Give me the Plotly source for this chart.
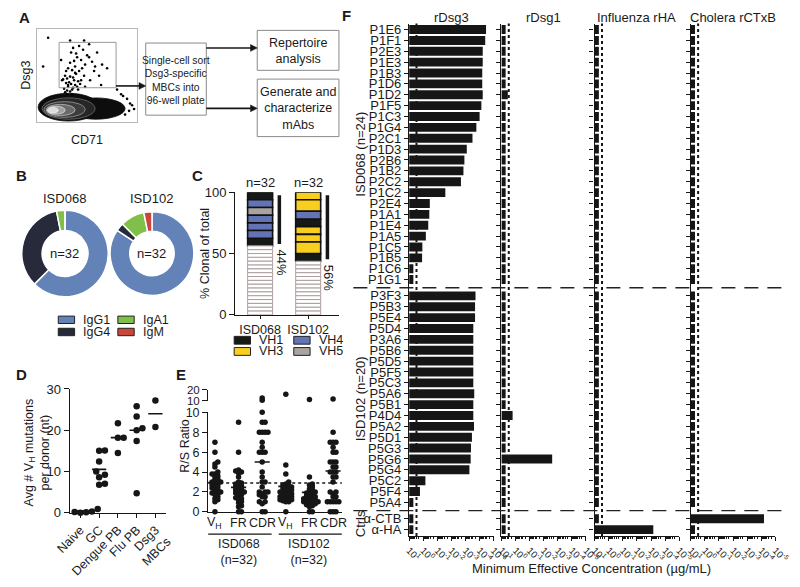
import plotly.graph_objects as go

W, H = 800, 587
def P(x): return x / W
def Q(y): return 1 - y / H

FONT = "Arial, Liberation Sans, Helvetica, sans-serif"
TXT = "#1a1a1a"
BLK = "#161616"

# ------------------------------------------------------------------ data
# A: flow cytometry sketch (CD71 vs Dsg3, arbitrary units 0-100, hand placed)
flow_u = [28,30,33,35,31,27,36,38,40,29,32,34,37,41,43,30,33,36,39,26,29,31,35,38,42,45,48,33,37,
          40,44,50,34,39,46,52,55,36,42,58,47,31,28,25,60,65,44,38,35,30,41,48,53,57,62,
          11,33,6,90,92,88,84,95,80,70,86,93,97,24,52,47,64]
flow_v = [32,34,33,35,38,36,37,40,38,42,43,41,45,44,41,47,49,48,52,46,55,58,56,60,55,58,62,64,66,
          70,67,72,75,74,78,70,65,80,82,60,50,40,50,45,75,62,45,53,30,30,35,38,45,55,50,
          91,88,60,25,12,8,30,18,35,58,28,20,14,67,84,88,40]

# B: isotypes
isotypes = ["IgG1", "IgG4", "IgA1", "IgM"]
iso_colors = ["#6282b8", "#262a3b", "#80c04a", "#c9463d"]
isd068_iso = [20, 11, 1, 0]
isd102_iso = [27, 1, 3, 1]

# C: clonal families (top to bottom), remaining cells are non-clonal
c_donors = ["ISD068", "ISD102"]
c_total = [32, 32]
c_clone_vh = [["VH1", "VH4", "VH5", "VH4", "VH4", "VH4", "VH1"],
              ["VH3", "VH3", "VH4", "VH1", "VH3", "VH3", "VH3", "VH1"]]
c_clone_size = [[2, 2, 2, 2, 2, 2, 2],
                [2, 3, 2, 2, 2, 2, 3, 2]]
vh_names = ["VH1", "VH3", "VH4", "VH5"]
vh_colors = {"VH1": "#151a16", "VH3": "#f9cf1f", "VH4": "#6373b5", "VH5": "#aaa4a1"}

# D: average VH mutations per donor
d_groups = ["Naive", "GC", "Dengue PB", "Flu PB", "Dsg3<br>MBCs"]
d_values = [[0.9, 1.0, 0.8, 0.2, 0.0, 0.1, 0.3],
            [15.1, 15.0, 12.4, 10.0, 9.2, 8.6, 7.0, 6.8],
            [21.7, 18.2, 18.2, 14.5],
            [25.8, 23.3, 20.0, 20.5, 17.4, 4.7],
            [27.2, 20.8]]
d_means = [0.4, 10.5, 18.2, 20.0, 24.0]

# E: R/S ratios
e_cols = ["V<sub>H</sub>", "FR", "CDR", "V<sub>H</sub>", "FR", "CDR"]
e_values = [
    [7.0, 6.0, 5.0, 4.8, 4.5, 4.0, 3.8, 3.8, 3.6, 3.5, 3.3, 3.2, 3.0, 3.0, 2.9, 2.8, 2.7, 2.6, 2.5, 2.4,
     2.3, 2.2, 2.0, 2.0, 1.9, 1.8, 1.7, 1.5, 1.3, 1.2, 1.0, 0.0],
    [9.0, 6.0, 4.2, 4.1, 4.0, 3.9, 3.5, 3.0, 2.9, 2.8, 2.7, 2.6, 2.5, 2.4, 2.3, 2.2, 2.1, 2.0, 2.0, 1.9,
     1.8, 1.7, 1.5, 1.4, 1.3, 1.2, 1.0, 0.9, 0.6, 0.5, 0.0, 0.0],
    [12.5, 10.5, 10.0, 9.0, 9.0, 8.0, 8.0, 8.0, 8.0, 7.0, 6.5, 6.0, 6.0, 6.0, 5.0, 4.0, 3.5, 3.0, 3.0,
     2.5, 2.0, 2.0, 2.0, 1.8, 1.7, 1.5, 1.5, 1.0, 1.0, 0.8, 0.0, 0.0],
    [16.0, 4.7, 3.8, 3.0, 2.8, 2.7, 2.6, 2.5, 2.5, 2.4, 2.3, 2.2, 2.2, 2.1, 2.0, 2.0, 1.9, 1.8, 1.8, 1.7,
     1.6, 1.5, 1.5, 1.4, 1.3, 1.3, 1.2, 1.2, 1.1, 1.0, 1.0, 0.0],
    [11.0, 3.5, 2.8, 2.7, 2.5, 2.3, 2.2, 2.0, 2.0, 1.9, 1.8, 1.7, 1.6, 1.5, 1.5, 1.4, 1.3, 1.3, 1.2, 1.2,
     1.1, 1.0, 1.0, 1.0, 0.9, 0.8, 0.8, 0.7, 0.6, 0.5, 0.0, 0.0],
    [11.5, 8.0, 7.0, 7.0, 7.0, 6.5, 6.0, 6.0, 5.0, 5.0, 5.0, 4.5, 4.5, 4.0, 4.0, 4.0, 3.5, 3.5, 3.0, 2.0,
     2.0, 1.8, 1.5, 1.5, 1.0, 1.0, 1.0, 1.0, 1.0, 0.0, 0.0, 0.0]]
e_means = [2.95, 2.45, 5.0, 2.55, 1.95, 4.1]
e_threshold = 2.9
e_donors = ["ISD068<br>(n=32)", "ISD102<br>(n=32)"]

# F: minimum effective concentration (ug/mL); 5 = no binding
f_isd068 = ["P1E6", "P1F1", "P2E3", "P1E3", "P1B3", "P1D6", "P1D2", "P1F5", "P1C3", "P1G4", "P2C1", "P1D3",
            "P2B6", "P1B2", "P2C2", "P1C2", "P2E4", "P1A1", "P1E4", "P1A5", "P1C5", "P1B5", "P1C6", "P1G1"]
f_isd102 = ["P3F3", "P5B3", "P5E4", "P5D4", "P3A6", "P5B6", "P5D5", "P5F5", "P5C3", "P5A6", "P5B1", "P4D4",
            "P5A2", "P5D1", "P5G3", "P5G6", "P5G4", "P5C2", "P5F4", "P5A4"]
f_ctrls = ["α-CTB", "α-HA"]
f_antigens = ["rDsg3", "rDsg1", "Influenza rHA", "Cholera rCTxB"]
rdsg3_068 = [3.5e-5, 4.0e-5, 6.0e-5, 6.0e-5, 6.5e-5, 6.5e-5, 6.0e-5, 7.5e-5, 1.0e-4, 1.7e-4, 3.2e-4, 8.1e-4,
             1.2e-3, 1.4e-3, 2.1e-3, 2.7e-2, 0.34, 0.37, 0.44, 0.65, 1.15, 1.2, 5, 5]
rdsg3_102 = [1.95e-4, 2.1e-4, 2.1e-4, 2.8e-4, 2.8e-4, 2.8e-4, 2.8e-4, 2.8e-4, 2.8e-4, 2.4e-4, 2.8e-4, 2.8e-4,
             2.5e-4, 3.5e-4, 4.1e-4, 4.3e-4, 5.3e-4, 0.7, 1.7, 5]
rdsg3_ctrl = [5, 5]
rdsg1_068 = [5, 5, 5, 5, 5, 5, 3.5, 5, 5, 5, 5, 5, 5, 5, 5, 5, 5, 5, 5, 5, 5, 5, 5, 5]
rdsg1_102 = [5, 5, 5, 5, 5, 5, 5, 5, 5, 5, 5, 1.6, 5, 5, 5, 2.5e-3, 5, 5, 5, 5]
rdsg1_ctrl = [5, 5]
rha_068 = [5, 5, 5, 5, 5, 5, 5, 5, 5, 5, 5, 5, 5, 5, 5, 5, 5, 5, 5, 5, 5, 5, 5, 5]
rha_102 = [5, 5, 5, 5, 5, 5, 5, 5, 5, 5, 5, 5, 5, 5, 5, 5, 5, 5, 5, 5]
rha_ctrl = [5, 6.9e-4]
ctxb_068 = [5, 5, 5, 5, 5, 5, 5, 5, 5, 5, 5, 5, 5, 5, 5, 5, 5, 5, 5, 5, 5, 5, 5, 5]
ctxb_102 = [5, 5, 5, 5, 5, 5, 5, 5, 5, 5, 5, 5, 5, 5, 5, 5, 5, 5, 5, 5]
ctxb_ctrl = [6.4e-5, 5]
f_cutoff = 3.0
f_group_labels = ["ISD068 (n=24)", "ISD102 (n=20)", "Ctrls"]
f_tickvals = [10, 1, 0.1, 0.01, 0.001, 0.0001, 0.00001]
f_ticktext = ["10<sup>1</sup>", "10<sup>0</sup>", "10<sup>-1</sup>", "10<sup>-2</sup>",
              "10<sup>-3</sup>", "10<sup>-4</sup>", "10<sup>-5</sup>"]

# ------------------------------------------------------------------ helpers
fig = go.Figure()
shapes, annotations = [], []


def ann(x, y, text, size=12.5, angle=0, xa="center", ya="middle", bold=False,
        xref="paper", yref="paper", color=TXT):
    annotations.append(dict(
        x=P(x) if xref == "paper" else x, y=Q(y) if yref == "paper" else y,
        xref=xref, yref=yref, text=("<b>%s</b>" % text) if bold else text,
        showarrow=False, textangle=angle, xanchor=xa, yanchor=ya,
        font=dict(size=size, color=color, family=FONT)))


def swarm(vals, ppy, ppx, d):
    idx = sorted(range(len(vals)), key=lambda i: vals[i])
    placed, off = [], [0.0] * len(vals)
    step = d / 2.0
    for i in idx:
        y = vals[i] * ppy
        k = 0
        while True:
            cands = [0.0] if k == 0 else [k * step, -k * step]
            ok = None
            for c in cands:
                if all((c - px) ** 2 + (y - py) ** 2 >= d * d for px, py in placed):
                    ok = c
                    break
            if ok is not None:
                break
            k += 1
        placed.append((ok, y))
        off[i] = ok / ppx
    return off


def rect(x0, y0, x1, y1, color="#8a8a8a", width=1, fill=None):
    shapes.append(dict(type="rect", xref="paper", yref="paper", x0=P(x0), x1=P(x1),
                       y0=Q(y1), y1=Q(y0), line=dict(color=color, width=width),
                       fillcolor=fill if fill else "rgba(0,0,0,0)"))


def arrow(x0, x1, y):
    shapes.append(dict(type="line", xref="paper", yref="paper", x0=P(x0), x1=P(x1 - 5), y0=Q(y), y1=Q(y),
                       line=dict(color=BLK, width=1.6)))
    shapes.append(dict(type="path", xref="paper", yref="paper",
                       path="M %f,%f L %f,%f L %f,%f Z" % (P(x1), Q(y), P(x1 - 7), Q(y - 3.5), P(x1 - 7), Q(y + 3.5)),
                       fillcolor=BLK, line=dict(color=BLK, width=0.5)))


layout = {}
def axis_base(**kw):
    d = dict(showgrid=False, zeroline=False, showline=True, linecolor=BLK, linewidth=1.3,
             tickcolor=BLK, tickwidth=1.3, tickfont=dict(size=13, color=TXT, family=FONT))
    d.update(kw)
    return d

# ------------------------------------------------------------------ A
layout["xaxis"] = dict(domain=[P(23), P(127)], range=[0, 100], anchor="y", showgrid=False, zeroline=False,
                       showline=True, mirror=True, linecolor="#b8b8b8", showticklabels=False, ticks="")
layout["yaxis"] = dict(domain=[Q(118), Q(23)], range=[0, 100], anchor="x", showgrid=False, zeroline=False,
                       showline=True, mirror=True, linecolor="#b8b8b8", showticklabels=False, ticks="")
blob = [(1, 62, 1, 31, "#0d0d0d", "#0d0d0d"), (30, 88, 3, 26, "#0d0d0d", "#0d0d0d"),
        (5, 58, 3, 26, "#262626", "#6e6e6e"), (7, 48, 5, 22, "#3c3c3c", "#9a9a9a"),
        (9, 38, 7, 19, "#6a6a6a", "#bdbdbd"), (10, 28, 8.5, 17, "#a0a0a0", "#dddddd"),
        (11, 21, 10, 15.5, "#dcdcdc", "#f2f2f2")]
for x0, x1, y0, y1, fc, lc in blob:
    shapes.append(dict(type="circle", xref="x", yref="y", x0=x0, x1=x1, y0=y0, y1=y1,
                       fillcolor=fc, line=dict(color=lc, width=0.8), layer="below"))
fig.add_trace(go.Scatter(x=flow_u, y=flow_v, xaxis="x", yaxis="y", mode="markers",
                         marker=dict(size=2.6, color="black"), hoverinfo="skip"))
shapes.append(dict(type="rect", xref="x", yref="y", x0=22, x1=79, y0=37, y1=86,
                   line=dict(color="#9a9a9a", width=1)))
ann(10, 11, "A", 15, bold=True)
ann(12, 70, "Dsg3", 12.5, angle=-90)
ann(75, 137, "CD71", 12.5)
rect(136, 37, 199, 111)
rect(252, 24, 337, 65)
rect(252, 74, 337, 133)
ann(167.5, 75, "Single-cell sort<br>Dsg3-specific<br>MBCs into<br>96-well plate", 10.3)
ann(294.5, 45, "Repertoire<br>analysis", 12.5)
ann(294.5, 104, "Generate and<br>characterize<br>mAbs", 12.5)
arrow(105, 136, 81)
arrow(199, 252, 42)
arrow(199, 252, 104)

# ------------------------------------------------------------------ B
for vals, cx, cy, r, name in [(isd068_iso, 52, 253, 45, "ISD068"), (isd102_iso, 142.5, 253, 43.5, "ISD102")]:
    fig.add_trace(go.Pie(labels=isotypes, values=vals, hole=0.53, sort=False, direction="clockwise",
                         rotation=0, textinfo="none", hoverinfo="skip",
                         marker=dict(colors=iso_colors, line=dict(color="white", width=1.5)),
                         domain=dict(x=[max(0.0, P(cx - r)), P(cx + r)], y=[Q(cy + r), Q(cy - r)]),
                         showlegend=False))
    ann(cx, cy, "n=%d" % sum(vals), 13)
    ann(cx, 197, name, 13)
ann(7, 173, "B", 15, bold=True)
for i, (nm, col) in enumerate(zip(isotypes, iso_colors)):
    cx = 45 if i in (0, 1) else 107
    cy = 321 if i in (0, 2) else 333.5
    rect(cx, cy - 3.8, cx + 17, cy + 3.8, color="#222", width=1, fill=col)
    ann(cx + 24, cy, nm, 12.5, xa="left")

# ------------------------------------------------------------------ C
segs = {k: ([], [], []) for k in vh_names + ["none"]}
for di in range(2):
    top = 100.0
    tot = c_total[di]
    for vh, s in zip(c_clone_vh[di], c_clone_size[di]):
        h = s * 100.0 / tot
        segs[vh][0].append(di); segs[vh][1].append(top - h); segs[vh][2].append(h)
        top -= h
    for k in range(tot - sum(c_clone_size[di])):
        h = 100.0 / tot
        segs["none"][0].append(di); segs["none"][1].append(top - h); segs["none"][2].append(h)
        top -= h
for k, (xs, bs, hs) in segs.items():
    if not xs:
        continue
    if k == "none":
        mk = dict(color="white", line=dict(color="#ad9f9f", width=1))
    else:
        mk = dict(color=vh_colors[k], line=dict(color="#111", width=1.6))
    fig.add_trace(go.Bar(x=xs, y=hs, base=bs, width=0.52, marker=mk, xaxis="x2", yaxis="y2",
                         hoverinfo="skip", showlegend=False))
layout["xaxis2"] = axis_base(domain=[P(229), P(337)], range=[-0.52, 1.64], anchor="y2",
                             tickvals=[0, 1], ticktext=c_donors, ticks="outside", ticklen=3,
                             tickfont=dict(size=12.5, color=TXT, family=FONT))
layout["yaxis2"] = axis_base(domain=[Q(316), Q(190)], range=[0, 100], anchor="x2",
                             tickvals=[0, 50, 100], ticks="outside", ticklen=5)
for di in range(2):
    pct = 100.0 * sum(c_clone_size[di]) / c_total[di]
    shapes.append(dict(type="line", xref="x2", yref="y2", x0=di + 0.4, x1=di + 0.4,
                       y0=97.5, y1=100 - pct + 1.5, line=dict(color=BLK, width=3.5)))
    ann(di + 0.44, 100 - pct - 1.5, "%d%%" % round(pct), 13, angle=90, ya="top",
        xref="x2", yref="y2")
    ann(di, 180, "n=%d" % c_total[di], 13, xref="x2")
ann(190, 173, "C", 15, bold=True)
ann(197, 253, "% Clonal of total", 12.5, angle=-90)
for i, nm in enumerate(vh_names):
    cx = 228 if i in (0, 1) else 290
    cy = 342 if i in (0, 2) else 353.5
    rect(cx, cy - 4, cx + 17, cy + 4, color="#222", width=1, fill=vh_colors[nm])
    ann(cx + 24, cy, nm, 12.5, xa="left")

# ------------------------------------------------------------------ D
dx, dy, mx, my = [], [], [], []
for gi, vals in enumerate(d_values):
    offs = swarm(vals, 4.22, 19.5, 6.0)
    dx += [gi + o for o in offs]
    dy += vals
    mx += [gi - 0.38, gi + 0.38, None]
    my += [d_means[gi], d_means[gi], None]
fig.add_trace(go.Scatter(x=mx, y=my, mode="lines", line=dict(color=BLK, width=1.6),
                         xaxis="x3", yaxis="y3", hoverinfo="skip", showlegend=False))
fig.add_trace(go.Scatter(x=dx, y=dy, mode="markers", marker=dict(size=6.5, color=BLK),
                         xaxis="x3", yaxis="y3", cliponaxis=False, hoverinfo="skip", showlegend=False))
layout["xaxis3"] = axis_base(domain=[P(57), P(157)], range=[-0.564, 4.56], anchor="y3",
                             tickvals=list(range(len(d_groups))), ticktext=d_groups, tickangle=-45,
                             ticks="outside", ticklen=4, tickfont=dict(size=12.5, color=TXT, family=FONT))
layout["yaxis3"] = axis_base(domain=[Q(519), Q(392)], range=[0, 30], anchor="x3",
                             tickvals=[0, 10, 20, 30], ticks="outside", ticklen=5)
ann(7, 377, "D", 15, bold=True)
ann(23, 457, "Avg # V<sub>H</sub> mutations<br>per donor (nt)", 12.5, angle=-90)

# ------------------------------------------------------------------ E
lx, ly, ux, uy, emx, emy = [], [], [], [], [], []
for ci, vals in enumerate(e_values):
    low = [v for v in vals if v <= 10]
    up = [v for v in vals if v > 10]
    lo = swarm(low, 10.2, 24.6, 3.0)
    lx += [ci + o for o in lo]
    ly += low
    uo = swarm(up, 3.0, 24.6, 3.0)
    ux += [ci + o for o in uo]
    uy += up
    emx += [ci - 0.32, ci + 0.32, None]
    emy += [e_means[ci], e_means[ci], None]
fig.add_trace(go.Scatter(x=emx, y=emy, mode="lines", line=dict(color=BLK, width=1.6),
                         xaxis="x4", yaxis="y4", hoverinfo="skip", showlegend=False))
fig.add_trace(go.Scatter(x=lx, y=ly, mode="markers", marker=dict(size=5.5, color=BLK),
                         xaxis="x4", yaxis="y4", cliponaxis=False, hoverinfo="skip", showlegend=False))
fig.add_trace(go.Scatter(x=ux, y=uy, mode="markers", marker=dict(size=5.5, color=BLK),
                         xaxis="x5", yaxis="y5", cliponaxis=False, hoverinfo="skip", showlegend=False))
e_range = [-0.285, 5.37]
layout["xaxis4"] = axis_base(domain=[P(201), P(340)], range=e_range, anchor="y4",
                             tickvals=list(range(len(e_cols))), showticklabels=False, ticks="")
layout["yaxis4"] = axis_base(domain=[Q(518), Q(416)], range=[0, 10], anchor="x4",
                             tickvals=[0, 2, 4, 6, 8, 10], ticks="outside", ticklen=5,
                             tickfont=dict(size=12.5, color=TXT, family=FONT))
layout["xaxis5"] = dict(domain=[P(201), P(340)], range=e_range, anchor="y5", visible=False)
layout["yaxis5"] = axis_base(domain=[Q(404), Q(393)], range=[10, 20], anchor="x5",
                             tickvals=[10, 20], ticks="outside", ticklen=5,
                             tickfont=dict(size=11.5, color=TXT, family=FONT))
shapes.append(dict(type="line", xref="x4 domain", yref="y4", x0=0, x1=1, y0=e_threshold, y1=e_threshold,
                   line=dict(color=BLK, width=1.5, dash="dot")))
for ci, lab in enumerate(e_cols):
    ann(ci, 530, lab, 12.5, xref="x4")
for gi in range(2):
    shapes.append(dict(type="line", xref="x4", yref="paper", x0=gi * 3 - 0.3, x1=gi * 3 + 2.4,
                       y0=Q(541), y1=Q(541), line=dict(color=BLK, width=1.2)))
    ann(gi * 3 + 1.0, 559, e_donors[gi], 12.5, xref="x4")
ann(173, 377, "E", 15, bold=True)
ann(176, 450, "R/S Ratio", 12.5, angle=-90)

# ------------------------------------------------------------------ F
f_groups = [f_isd068, f_isd102, f_ctrls]
f_data = [[rdsg3_068, rdsg3_102, rdsg3_ctrl], [rdsg1_068, rdsg1_102, rdsg1_ctrl],
          [rha_068, rha_102, rha_ctrl], [ctxb_068, ctxb_102, ctxb_ctrl]]
positions, names, group_pos, seps = [], [], [], []
pos = 0.0
for gi, grp in enumerate(f_groups):
    gp = []
    for nm in grp:
        positions.append(pos); names.append(nm); gp.append(pos)
        pos += 1
    group_pos.append(gp)
    if gi < len(f_groups) - 1:
        seps.append(pos - 0.25)
    pos += 0.5
panel_x = [(410, 498), (506, 594), (603, 691), (703, 791)]
minor_vals = [m * 10 ** e for e in range(-5, 1) for m in range(2, 10)]
for pi, (x0, x1) in enumerate(panel_x):
    xa, ya = "x%d" % (6 + pi), "y%d" % (6 + pi)
    vals = [v for part in f_data[pi] for v in part]
    fig.add_trace(go.Bar(y=positions, x=[10 - v for v in vals], base=vals, orientation="h", width=0.82,
                         marker=dict(color=BLK, line=dict(width=0)), xaxis=xa, yaxis=ya,
                         hoverinfo="skip", showlegend=False))
    layout["xaxis%d" % (6 + pi)] = axis_base(domain=[P(x0), P(x1)], type="log", range=[1, -5], anchor=ya,
                                              tickvals=f_tickvals, ticktext=f_ticktext, tickangle=45,
                                              ticks="outside", ticklen=4,
                                              tickfont=dict(size=9.5, color=TXT, family=FONT),
                                              minor=dict(ticks="outside", ticklen=2, tickvals=minor_vals,
                                                         tickcolor=BLK, showgrid=False))
    layout["yaxis%d" % (6 + pi)] = axis_base(domain=[Q(543), Q(17)], range=[46.6, -0.55], anchor=xa,
                                              tickvals=positions, ticktext=names, ticks="outside", ticklen=4,
                                              showticklabels=(pi == 0))
    shapes.append(dict(type="line", xref=xa, yref=ya + " domain", x0=f_cutoff, x1=f_cutoff, y0=0, y1=1,
                       line=dict(color=BLK, width=2, dash="dot"), layer="below"))
    ann((x0 + x1) / 2, 11, f_antigens[pi], 13)
for s in seps:
    shapes.append(dict(type="line", xref="paper", yref="y6", x0=P(352), x1=1, y0=s, y1=s,
                       line=dict(color="#222", width=1.3, dash="14px,9px")))
for gi, gp in enumerate(group_pos):
    ann(359, sum(gp) / len(gp), f_group_labels[gi], 13, angle=-90, yref="y6")
ann(345, 9, "F", 15, bold=True)
ann(600, 576, "Minimum Effective Concentration (µg/mL)", 13)

layout.update(dict(width=W, height=H, margin=dict(l=0, r=0, t=0, b=0), showlegend=False,
                   plot_bgcolor="white", paper_bgcolor="white", barmode="overlay",
                   font=dict(family=FONT, color=TXT), shapes=shapes, annotations=annotations))
fig.update_layout(**layout)
fig.write_html("out.html", config={"displayModeBar": False},
               post_script="document.body.style.margin='0';document.documentElement.style.overflow='hidden';")
